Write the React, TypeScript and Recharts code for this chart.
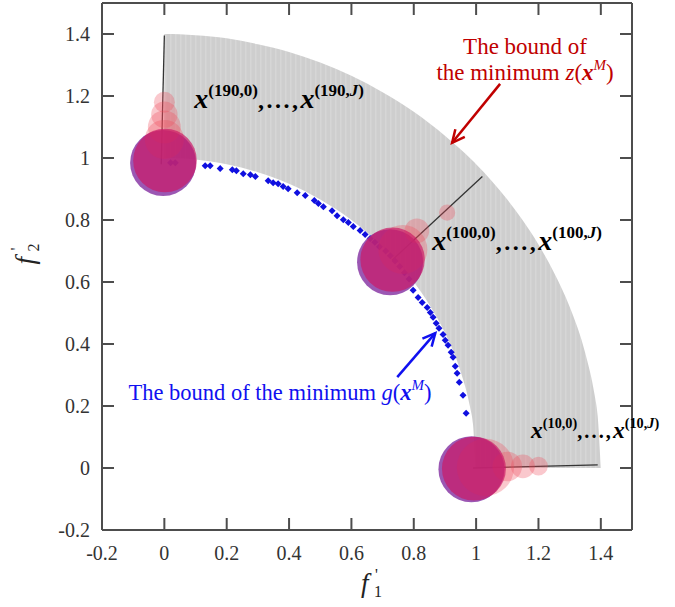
import React from "react";
import {
  ComposedChart,
  Area,
  Scatter,
  XAxis,
  YAxis,
  ZAxis,
  ReferenceLine,
  ReferenceDot,
} from "recharts";

// grey band between the two bounds
const bandX = [0, 0.05, 0.1, 0.2, 0.3, 0.4, 0.5, 0.6, 0.7, 0.8, 0.85, 0.9, 0.95, 0.98, 0.99, 1.0, 1.05, 1.1, 1.15, 1.2, 1.25, 1.3, 1.35, 1.38, 1.39, 1.4];
const bandInner = [1.0, 0.999, 0.995, 0.98, 0.954, 0.917, 0.866, 0.8, 0.714, 0.6, 0.527, 0.436, 0.312, 0.199, 0.141, 0, 0, 0, 0, 0, 0, 0, 0, 0, 0, 0];
const bandOuter = [1.4, 1.399, 1.396, 1.386, 1.367, 1.342, 1.308, 1.265, 1.212, 1.149, 1.112, 1.072, 1.028, 1.0, 0.99, 0.98, 0.926, 0.866, 0.798, 0.721, 0.63, 0.52, 0.371, 0.236, 0.167, 0];

// blue bound g(x^M)
const blueX = [0.02, 0.035, 0.131, 0.147, 0.179, 0.218, 0.231, 0.253, 0.276, 0.292, 0.333, 0.349, 0.365, 0.381, 0.397, 0.426, 0.452, 0.481, 0.494, 0.51, 0.538, 0.554, 0.574, 0.59, 0.606, 0.628, 0.644, 0.66, 0.675, 0.69, 0.71, 0.725, 0.74, 0.755, 0.77, 0.785, 0.798, 0.814, 0.827, 0.843, 0.853, 0.862, 0.872, 0.881, 0.894, 0.901, 0.91, 0.92, 0.926, 0.933, 0.939, 0.946, 0.958, 0.968];
const blueY = [0.985, 0.985, 0.975, 0.975, 0.966, 0.962, 0.959, 0.949, 0.946, 0.94, 0.927, 0.92, 0.917, 0.908, 0.901, 0.888, 0.879, 0.863, 0.853, 0.843, 0.83, 0.814, 0.801, 0.792, 0.779, 0.766, 0.753, 0.74, 0.728, 0.714, 0.7, 0.685, 0.668, 0.65, 0.63, 0.61, 0.573, 0.55, 0.534, 0.518, 0.502, 0.486, 0.467, 0.451, 0.431, 0.412, 0.396, 0.373, 0.357, 0.328, 0.306, 0.277, 0.235, 0.177];

// bubble clusters x^(190,.), x^(100,.), x^(10,.)
const baseX = [-0.004, 0.724, 0.985];
const baseY = [0.984, 0.664, -0.004];
const baseW = [1.0, 1.0, 1.0];
const topX = [0.002, 0.732, 0.993];
const topY = [0.992, 0.672, -0.002];
const topW = [0.93, 0.95, 0.94];
const trailX = [0, 0, 0, 0, 0.765, 0.81, 0.907, 1.03, 1.1, 1.15, 1.2];
const trailY = [1.06, 1.1, 1.14, 1.18, 0.705, 0.765, 0.824, 0.002, 0.005, 0.005, 0.006];
const trailW = [0.35, 0.25, 0.16, 0.1, 0.55, 0.14, 0.06, 0.75, 0.2, 0.13, 0.08];

const ticks = [-0.2, 0, 0.2, 0.4, 0.6, 0.8, 1, 1.2, 1.4];

const bandData = bandX.map((x, i) => ({ x, band: [bandInner[i], bandOuter[i]] }));
const blueData = blueX.map((x, i) => ({ x, y: blueY[i] }));
const toBubbles = (xs: number[], ys: number[], ws: number[]) =>
  xs.map((x, i) => ({ x, y: ys[i], z: ws[i] }));

const AXIS = "#4d4d4d";
const PLOT_W = 530;
const PLOT_H = 527;
const serif = { fontFamily: "'Liberation Serif', 'Times New Roman', serif" };

const XTick = (props: any) => {
  const { x, y, payload } = props;
  const v = payload.value;
  return (
    <g>
      {v !== -0.2 && (
        <>
          <line x1={x} y1={y} x2={x} y2={y - 12} stroke={AXIS} strokeWidth={2} />
          <line x1={x} y1={y - PLOT_H} x2={x} y2={y - PLOT_H + 12} stroke={AXIS} strokeWidth={2} />
        </>
      )}
      <text x={x} y={y + 30} textAnchor="middle" style={serif} fontSize={20} fill="#333">
        {String(v)}
      </text>
    </g>
  );
};

const YTick = (props: any) => {
  const { x, y, payload } = props;
  const v = payload.value;
  return (
    <g>
      {v !== -0.2 && (
        <>
          <line x1={x} y1={y} x2={x + 12} y2={y} stroke={AXIS} strokeWidth={2} />
          <line x1={x + PLOT_W} y1={y} x2={x + PLOT_W - 12} y2={y} stroke={AXIS} strokeWidth={2} />
        </>
      )}
      <text x={x - 12} y={y + 7} textAnchor="end" style={serif} fontSize={20} fill="#333">
        {String(v)}
      </text>
    </g>
  );
};

const diamond = (props: any) => {
  const { cx, cy } = props;
  const s = 3.5;
  return <polygon points={`${cx},${cy - s} ${cx + s},${cy} ${cx},${cy + s} ${cx - s},${cy}`} fill="#1010e0" />;
};

const bubble = (fill: string, opacity: number) => (props: any) => {
  const { cx, cy, width } = props;
  return <circle cx={cx} cy={cy} r={width / 2} fill={fill} fillOpacity={opacity} />;
};

const arrow = (color: string) => (p: any) => {
  const { x1, y1, x2, y2 } = p;
  const a = Math.atan2(y2 - y1, x2 - x1);
  const h = 14;
  const w = 0.45;
  const ax = x2 - h * Math.cos(a - w);
  const ay = y2 - h * Math.sin(a - w);
  const bx = x2 - h * Math.cos(a + w);
  const by = y2 - h * Math.sin(a + w);
  return (
    <g>
      <line x1={x1} y1={y1} x2={x2} y2={y2} stroke={color} strokeWidth={2.5} />
      <polyline points={`${ax},${ay} ${x2},${y2} ${bx},${by}`} fill="none" stroke={color} strokeWidth={2.5} />
    </g>
  );
};

const pointLabel = (idx: string, k = 1) => (p: any) => (
  <text x={p.cx} y={p.cy} style={serif} fill="#000">
    <tspan fontWeight="bold" fontStyle="italic" fontSize={28 * k}>x</tspan>
    <tspan fontWeight="bold" fontSize={17 * k} dy={-12 * k}>({idx},0)</tspan>
    <tspan fontWeight="bold" fontSize={24 * k} dy={12 * k} letterSpacing={2.5 * k}>,...,</tspan>
    <tspan fontWeight="bold" fontStyle="italic" fontSize={28 * k}>x</tspan>
    <tspan fontWeight="bold" fontSize={17 * k} dy={-12 * k}>({idx},</tspan>
    <tspan fontWeight="bold" fontStyle="italic" fontSize={17 * k}>J</tspan>
    <tspan fontWeight="bold" fontSize={17 * k}>)</tspan>
  </text>
);

const redLabel = (p: any) => (
  <g style={serif} fill="#c00000" fontSize={23}>
    <text x={p.cx} y={p.cy + 3} textAnchor="middle">The bound of</text>
    <text x={p.cx} y={p.cy + 29} textAnchor="middle">
      the minimum <tspan fontStyle="italic">z</tspan>(
      <tspan fontWeight="bold" fontStyle="italic">x</tspan>
      <tspan fontStyle="italic" fontSize={15} dy={-10}>M</tspan>
      <tspan dy={10}>)</tspan>
    </text>
  </g>
);

const blueLabel = (p: any) => (
  <text x={p.cx} y={p.cy} style={serif} fill="#1010f0" fontSize={22.5}>
    The bound of the minimum <tspan fontStyle="italic">g</tspan>(
    <tspan fontWeight="bold" fontStyle="italic">x</tspan>
    <tspan fontStyle="italic" fontSize={15} dy={-10}>M</tspan>
    <tspan dy={10}>)</tspan>
  </text>
);

const XAxisLabel = (p: any) => {
  const { x, y, width } = p.viewBox;
  const fx = x + width / 2 - 6;
  return (
    <g style={serif} fill="#222">
      <text x={fx} y={y + 62} fontStyle="italic" fontSize={27}>f</text>
      <text x={fx + 13} y={y + 67} fontSize={16}>1</text>
      <text x={fx + 14} y={y + 50} fontSize={16}>'</text>
    </g>
  );
};

const YAxisLabel = (p: any) => {
  const { y, height } = p.viewBox;
  const cy = y + height / 2 - 2;
  return (
    <g style={serif} fill="#222" transform={`translate(34, ${cy}) rotate(-90)`}>
      <text x={0} y={0} fontStyle="italic" fontSize={27}>f</text>
      <text x={13} y={5} fontSize={16}>2</text>
      <text x={14} y={-12} fontSize={16}>'</text>
    </g>
  );
};

export default function App() {
  return (
    <div style={{ position: "absolute", left: 0, top: 0, background: "#fff" }}>
      <ComposedChart
        width={675}
        height={607}
        data={bandData}
        margin={{ top: 3, right: 43, bottom: 0, left: 0 }}
      >
        <defs>
          <pattern id="hatch" width="5" height="10" patternUnits="userSpaceOnUse">
            <rect width="5" height="10" fill="#cecece" />
            <rect width="1.5" height="10" fill="#d6d6d6" />
          </pattern>
        </defs>
        <XAxis
          type="number"
          dataKey="x"
          domain={[-0.2, 1.5]}
          ticks={ticks}
          allowDataOverflow
          height={77}
          tickSize={0}
          tickMargin={0}
          tickLine={false}
          axisLine={{ stroke: AXIS, strokeWidth: 2 }}
          tick={XTick}
          interval={0}
          label={{ content: XAxisLabel }}
        />
        <YAxis
          type="number"
          dataKey="y"
          domain={[-0.2, 1.5]}
          ticks={ticks}
          allowDataOverflow
          width={102}
          tickSize={0}
          tickMargin={0}
          tickLine={false}
          axisLine={{ stroke: AXIS, strokeWidth: 2 }}
          tick={YTick}
          interval={0}
          label={{ content: YAxisLabel }}
        />
        <ZAxis type="number" dataKey="z" domain={[0, 1]} range={[0, 3421]} />
        <ReferenceLine y={1.5} stroke={AXIS} strokeWidth={2} />
        <ReferenceLine x={1.5} stroke={AXIS} strokeWidth={2} />
        <Area
          type="monotone"
          dataKey="band"
          stroke="none"
          fill="url(#hatch)"
          fillOpacity={1}
          isAnimationActive={false}
          dot={false}
          activeDot={false}
        />
        <Scatter data={blueData} shape={diamond} isAnimationActive={false} />
        <Scatter data={toBubbles(baseX, baseY, baseW)} shape={bubble("#8a3aa6", 0.85)} isAnimationActive={false} />
        <Scatter data={toBubbles(trailX, trailY, trailW)} shape={bubble("#f04858", 0.3)} isAnimationActive={false} />
        <Scatter data={toBubbles(topX, topY, topW)} shape={bubble("#cc1864", 0.68)} isAnimationActive={false} />
        <ReferenceLine segment={[{ x: -0.01, y: 0.98 }, { x: 0, y: 1.395 }]} stroke="#333" strokeWidth={1.3} ifOverflow="visible" />
        <ReferenceLine segment={[{ x: 0.73, y: 0.67 }, { x: 1.02, y: 0.94 }]} stroke="#333" strokeWidth={1.3} ifOverflow="visible" />
        <ReferenceLine segment={[{ x: 0.99, y: 0 }, { x: 1.39, y: 0.01 }]} stroke="#333" strokeWidth={1.3} ifOverflow="visible" />
        <ReferenceLine segment={[{ x: 1.077, y: 1.239 }, { x: 0.923, y: 1.049 }]} shape={arrow("#c00000")} ifOverflow="visible" />
        <ReferenceLine segment={[{ x: 0.747, y: 0.293 }, { x: 0.869, y: 0.435 }]} shape={arrow("#1010f0")} ifOverflow="visible" />
        <ReferenceDot x={0.096} y={1.162} shape={pointLabel("190")} ifOverflow="visible" />
        <ReferenceDot x={0.859} y={0.702} shape={pointLabel("100")} ifOverflow="visible" />
        <ReferenceDot x={1.176} y={0.097} shape={pointLabel("10", 0.84)} ifOverflow="visible" />
        <ReferenceDot x={1.157} y={1.345} shape={redLabel} ifOverflow="visible" />
        <ReferenceDot x={-0.115} y={0.219} shape={blueLabel} ifOverflow="visible" />
      </ComposedChart>
    </div>
  );
}
